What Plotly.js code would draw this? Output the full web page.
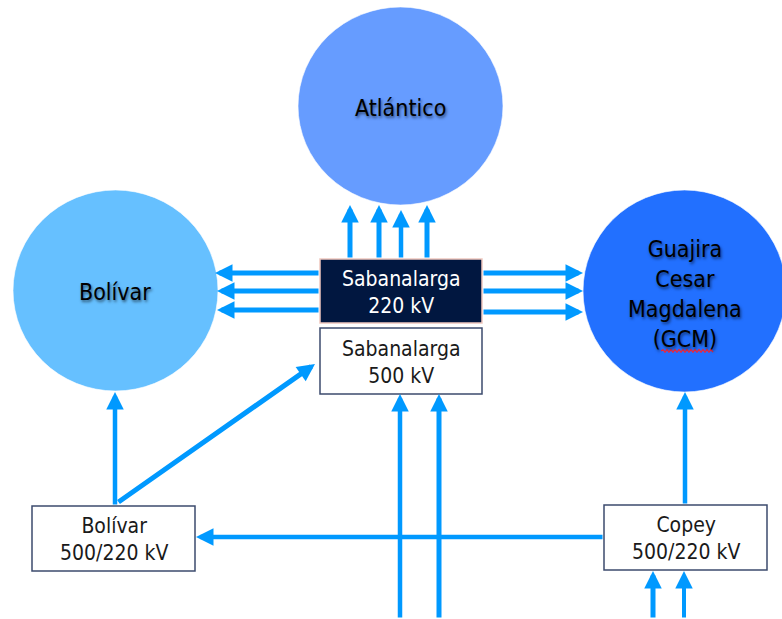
<!DOCTYPE html>
<html>
<head>
<meta charset="utf-8">
<script src="https://cdn.plot.ly/plotly-3.0.1.min.js"></script>
<style>html,body{margin:0;padding:0;background:#fff;}#chart{width:782px;height:619px;}</style>
</head>
<body>
<div id="chart"></div>
<script>
// ---- data ----
const regionLabels = ['Atlántico', 'Bolívar', 'Guajira<br>Cesar<br>Magdalena<br>(GCM)'];
const stationLabels = ['Sabanalarga<br>220 kV', 'Sabanalarga<br>500 kV', 'Bolívar<br>500/220 kV', 'Copey<br>500/220 kV'];
// links: from, to, number of circuits
const linkFrom = ['Sab220', 'Sab220', 'Sab220', 'BolS', 'BolS', 'Copey', 'Copey', 'South', 'South'];
const linkTo   = ['Atl',    'Bol',    'GCM',    'Bol',  'Sab500', 'BolS', 'GCM',  'Sab500', 'Copey'];
const linkCount = [4, 3, 3, 1, 1, 1, 1, 2, 2];

// ---- geometry (diagram layout) ----
const FONT = 'DejaVu Sans Condensed, DejaVu Sans, sans-serif';
const ARROW = 'rgb(0,153,255)';
const regions = {
  Atl: {x0: 298, x1: 503, y0: 7, y1: 205, fill: 'rgb(102,156,255)'},
  Bol: {x0: 13, x1: 218, y0: 190, y1: 391, fill: 'rgb(102,192,255)'},
  GCM: {x0: 583, x1: 786, y0: 190, y1: 392, fill: 'rgb(34,112,255)'}
};
const regionText = {Atl: [400, 108], Bol: [115, 292], GCM: [685, 294]};
const stations = {
  Sab220: {x0: 320, x1: 482, y0: 259, y1: 323, fill: 'rgb(1,23,64)', line: 'rgb(240,200,190)', color: '#ffffff'},
  Sab500: {x0: 320, x1: 482, y0: 328, y1: 394, fill: '#ffffff', line: 'rgb(60,75,110)', color: '#1a1a1a'},
  BolS:   {x0: 32, x1: 195, y0: 506, y1: 571, fill: '#ffffff', line: 'rgb(60,75,110)', color: '#1a1a1a'},
  Copey:  {x0: 604, x1: 767, y0: 505, y1: 570, fill: '#ffffff', line: 'rgb(60,75,110)', color: '#1a1a1a'}
};
// arrow routes per link: [tailX, tailY, tipX, tipY, width]
const routes = {
  'Sab220-Atl': [[350, 259, 350, 205, 5], [379, 259, 379, 205, 5], [401, 259, 401, 210, 4.5], [427, 259, 427, 205, 5]],
  'Sab220-Bol': [[320, 273, 215, 273, 5], [320, 291, 217, 291, 5], [320, 310, 217, 310, 5]],
  'Sab220-GCM': [[482, 273, 583, 273, 5], [482, 291, 583, 291, 5], [482, 312, 583, 312, 5]],
  'BolS-Bol': [[115, 506, 115, 392, 4.5]],
  'BolS-Sab500': [[117, 503, 315, 364, 5]],
  'Copey-BolS': [[604, 537, 196, 537, 4.5]],
  'Copey-GCM': [[685, 505, 685, 392, 4.5]],
  'South-Sab500': [[400, 619, 400, 394, 4.5], [439, 619, 439, 394, 5]],
  'South-Copey': [[653, 619, 653, 571, 5], [684, 619, 684, 571, 4]]
};

const shapes = [];
const annotations = [];
const regionKeys = ['Atl', 'Bol', 'GCM'];
regionKeys.forEach((k, i) => {
  const r = regions[k];
  shapes.push({type: 'circle', xref: 'x', yref: 'y', x0: r.x0, x1: r.x1, y0: r.y0, y1: r.y1,
    fillcolor: r.fill, line: {color: 'rgba(255,255,255,0.6)', width: 1}, layer: 'below'});
  annotations.push({x: regionText[k][0], y: regionText[k][1], xref: 'x', yref: 'y', text: regionLabels[i],
    showarrow: false, xanchor: 'center', yanchor: 'middle',
    font: {family: FONT, size: 23, color: '#000000', shadow: '1px 2px 3px rgba(0,0,0,0.55)'}});
});
const stationKeys = ['Sab220', 'Sab500', 'BolS', 'Copey'];
stationKeys.forEach((k, i) => {
  const s = stations[k];
  shapes.push({type: 'rect', xref: 'x', yref: 'y', x0: s.x0, x1: s.x1, y0: s.y0, y1: s.y1,
    fillcolor: s.fill, line: {color: s.line, width: 1.5}, layer: 'above'});
  annotations.push({x: (s.x0 + s.x1) / 2, y: (s.y0 + s.y1) / 2 + 1, xref: 'x', yref: 'y', text: stationLabels[i],
    showarrow: false, xanchor: 'center', yanchor: 'middle',
    font: {family: FONT, size: 21, color: s.color}});
});
// red spell-check wave under "GCM"
let wave = 'M661,351';
for (let x = 663, up = true; x <= 713; x += 2, up = !up) wave += ' L' + x + ',' + (up ? 349.6 : 352.2);
shapes.push({type: 'path', xref: 'x', yref: 'y', path: wave, line: {color: 'rgb(235,40,60)', width: 1.3}, layer: 'above'});

linkFrom.forEach((f, i) => {
  const key = f + '-' + linkTo[i];
  const rs = routes[key].slice(0, linkCount[i]);
  rs.forEach(r => {
    annotations.push({x: r[2], y: r[3], ax: r[0], ay: r[1], xref: 'x', yref: 'y', axref: 'x', ayref: 'y',
      text: '', showarrow: true, arrowhead: 2, arrowwidth: r[4], arrowsize: 3.5 / r[4], arrowcolor: ARROW,
      standoff: 0, startstandoff: 0});
  });
});

const layout = {
  width: 782, height: 619,
  margin: {l: 0, r: 0, t: 0, b: 0, pad: 0},
  paper_bgcolor: '#ffffff', plot_bgcolor: '#ffffff',
  xaxis: {range: [0, 782], autorange: false, visible: false, fixedrange: true},
  yaxis: {range: [619, 0], autorange: false, visible: false, fixedrange: true},
  showlegend: false,
  shapes: shapes,
  annotations: annotations
};
Plotly.newPlot('chart', [], layout, {displayModeBar: false, staticPlot: true});
</script>
</body>
</html>
